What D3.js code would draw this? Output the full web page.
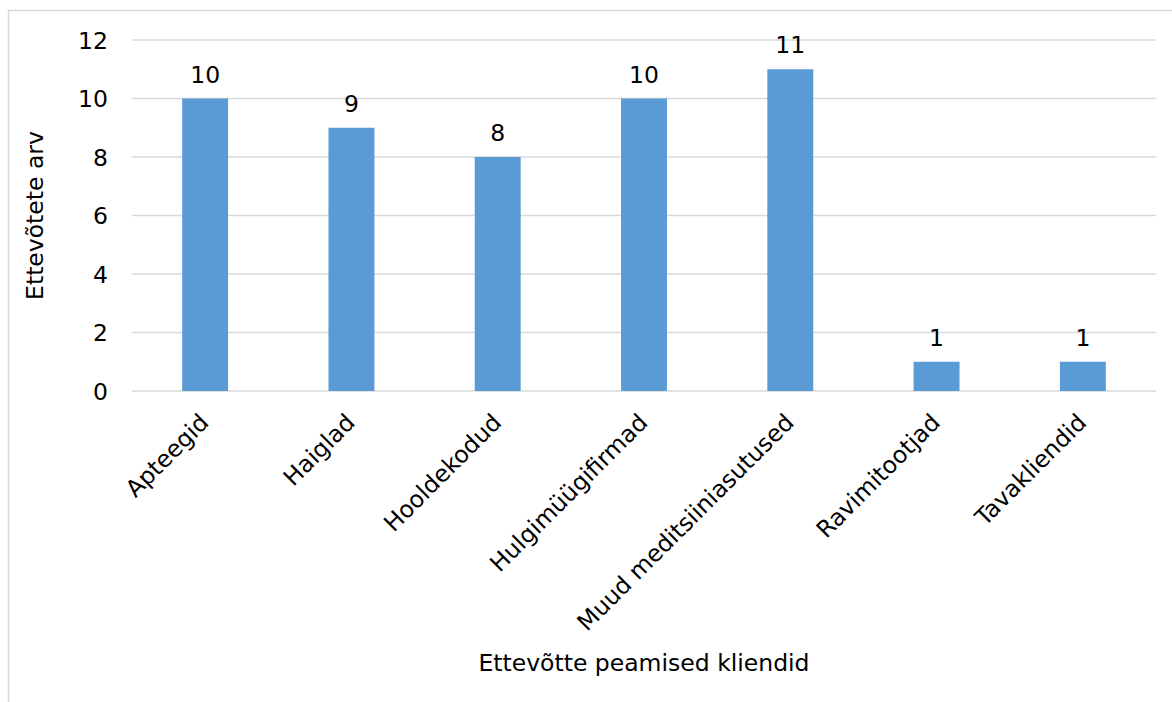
<!DOCTYPE html>
<html>
<head>
<meta charset="utf-8">
<script src="https://cdn.jsdelivr.net/npm/d3@7"></script>
<style>
  html, body { margin: 0; padding: 0; background: #fff; }
  svg { display: block; font-family: "DejaVu Sans", Verdana, sans-serif; }
</style>
</head>
<body>
<svg id="chart" width="1172" height="702"></svg>
<script>
// Client groups and number of companies naming each as a main client
const categories = ["Apteegid", "Haiglad", "Hooldekodud", "Hulgimüügifirmad", "Muud meditsiiniasutused", "Ravimitootjad", "Tavakliendid"];
const values = [10, 9, 8, 10, 11, 1, 1];
const yTicks = [0, 2, 4, 6, 8, 10, 12];
const xTitle = "Ettevõtte peamised kliendid";
const yTitle = "Ettevõtete arv";

const FS = 23.5;
const svg = d3.select("#chart");
const W = 1172, H = 702;
const plot = { left: 132, right: 1156, top: 40, bottom: 391 };

// outer chart frame
svg.append("rect")
  .attr("x", 8.5).attr("y", 10.5)
  .attr("width", W).attr("height", H)
  .attr("fill", "none").attr("stroke", "#d9d9d9").attr("stroke-width", 1.5);

const x = d3.scaleBand().domain(categories).range([plot.left, plot.right]).paddingInner(0.686).paddingOuter(0.343);
const y = d3.scaleLinear().domain([0, 12]).range([plot.bottom, plot.top]);

// horizontal gridlines
svg.append("g").selectAll("line").data(yTicks).join("line")
  .attr("x1", plot.left).attr("x2", plot.right)
  .attr("y1", d => y(d)).attr("y2", d => y(d))
  .attr("stroke", "#d9d9d9").attr("stroke-width", 1.5);

// y axis labels
const yAxis = svg.append("g").attr("transform", `translate(${plot.left - 24},0)`)
  .call(d3.axisLeft(y).tickValues(yTicks).tickSize(0).tickPadding(0));
yAxis.select(".domain").remove();
yAxis.selectAll("text").attr("font-size", FS).attr("fill", "#000")
  .attr("font-family", "DejaVu Sans, Verdana, sans-serif").attr("dy", "0.35em");

// bars
svg.append("g").selectAll("rect").data(values).join("rect")
  .attr("x", (d, i) => x(categories[i]))
  .attr("width", x.bandwidth())
  .attr("y", d => y(d))
  .attr("height", d => y(0) - y(d))
  .attr("fill", "#5b9bd5");

// value labels
svg.append("g").selectAll("text").data(values).join("text")
  .attr("x", (d, i) => x(categories[i]) + x.bandwidth() / 2)
  .attr("y", d => y(d) - 16)
  .attr("text-anchor", "middle")
  .attr("font-size", FS).attr("fill", "#000")
  .text(d => d);

// x axis category labels, rotated
const xAxis = svg.append("g").attr("transform", `translate(0,${plot.bottom})`)
  .call(d3.axisBottom(x).tickSize(0).tickPadding(0));
xAxis.select(".domain").remove();
xAxis.selectAll("text")
  .attr("font-size", FS).attr("fill", "#000")
  .attr("font-family", "DejaVu Sans, Verdana, sans-serif")
  .attr("text-anchor", "end")
  .attr("dy", null)
  .attr("transform", "translate(5,33) rotate(-45)");

// axis titles
svg.append("text")
  .attr("x", 644).attr("y", 671)
  .attr("text-anchor", "middle").attr("font-size", FS).attr("fill", "#000")
  .text(xTitle);

svg.append("text")
  .attr("transform", `translate(43,${(plot.top + plot.bottom) / 2}) rotate(-90)`)
  .attr("text-anchor", "middle").attr("font-size", FS).attr("fill", "#000")
  .text(yTitle);
</script>
</body>
</html>
